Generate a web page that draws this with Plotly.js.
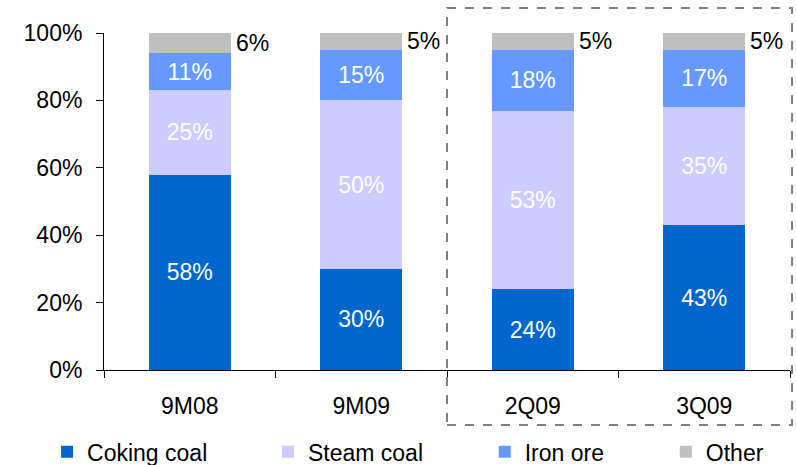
<!DOCTYPE html>
<html>
<head>
<meta charset="utf-8">
<script src="https://cdn.plot.ly/plotly-3.0.1.min.js"></script>
<style>html,body{margin:0;padding:0;background:#fff;}#chart{width:796px;height:465px;}</style>
</head>
<body>
<div id="chart"></div>
<script>
const categories = ["9M08", "9M09", "2Q09", "3Q09"];
const cokingCoal = [58, 30, 24, 43];
const steamCoal = [25, 50, 53, 35];
const ironOre = [11, 15, 18, 17];
const other = [6, 5, 5, 5];
const seriesNames = ["Coking coal", "Steam coal", "Iron ore", "Other"];
const yTicks = [0, 20, 40, 60, 80, 100];

const FONT = "Liberation Sans, Arial, sans-serif";
const FS = 23;
const colors = ["#0066CC", "#CCCCFF", "#6699FF", "#C0C0C0"];
const seriesVals = [cokingCoal, steamCoal, ironOre, other];
const legendIds = ["legend", "legend2", "legend3", "legend4"];
const legendX = [-0.083, 0.239, 0.555, 0.819];

const traces = seriesVals.map((vals, i) => ({
  type: "bar",
  name: seriesNames[i],
  x: categories,
  y: vals,
  legend: legendIds[i],
  marker: {color: colors[i], line: {width: 0}},
  text: i < 3 ? vals.map(v => v + "%") : null,
  textposition: i < 3 ? "inside" : "none",
  insidetextanchor: "middle",
  textfont: {family: FONT, size: FS, color: "#FFFFFF"},
  hoverinfo: "none"
}));

const annotations = categories.map((c, k) => ({
  x: c, xref: "x",
  y: cokingCoal[k] + steamCoal[k] + ironOre[k] + other[k] / 2, yref: "y",
  text: other[k] + "%",
  showarrow: false,
  xanchor: "left",
  xshift: 44,
  font: {family: FONT, size: FS, color: "#000"}
}));

const layout = {
  width: 796, height: 465,
  margin: {l: 104, r: 6, t: 33, b: 95, autoexpand: false},
  paper_bgcolor: "#fff", plot_bgcolor: "#fff",
  barmode: "stack",
  bargap: 0.52,
  font: {family: FONT, size: FS, color: "#000"},
  xaxis: {
    type: "category",
    showline: true, linecolor: "#000", linewidth: 1,
    ticks: "outside", ticklen: 7, tickcolor: "#000",
    tickson: "boundaries",
    showgrid: false, zeroline: false,
    tickfont: {family: FONT, size: FS, color: "#000"},
    ticklabelstandoff: 15,
    fixedrange: true
  },
  yaxis: {
    range: [0, 100],
    tickvals: yTicks,
    ticktext: yTicks.map(v => v + "%"),
    showline: true, linecolor: "#000", linewidth: 1,
    ticks: "outside", ticklen: 7, tickcolor: "#000",
    showgrid: false, zeroline: false,
    tickfont: {family: FONT, size: FS, color: "#000"},
    ticklabelstandoff: 9,
    fixedrange: true
  },
  showlegend: true,
  annotations: annotations,
  shapes: [{
    type: "rect", xref: "paper", yref: "paper",
    x0: 0.5, x1: 1.003, y0: -0.163, y1: 1.074,
    line: {color: "#808080", width: 2, dash: "dash"},
    fillcolor: "rgba(0,0,0,0)"
  }]
};

legendIds.forEach((id, i) => {
  layout[id] = {
    orientation: "h",
    x: legendX[i], xanchor: "left",
    y: -0.243, yanchor: "middle",
    bgcolor: "rgba(0,0,0,0)", borderwidth: 0,
    font: {family: FONT, size: FS, color: "#000"},
    itemclick: false, itemdoubleclick: false
  };
});

Plotly.newPlot("chart", traces, layout, {displayModeBar: false, staticPlot: true});
</script>
</body>
</html>
